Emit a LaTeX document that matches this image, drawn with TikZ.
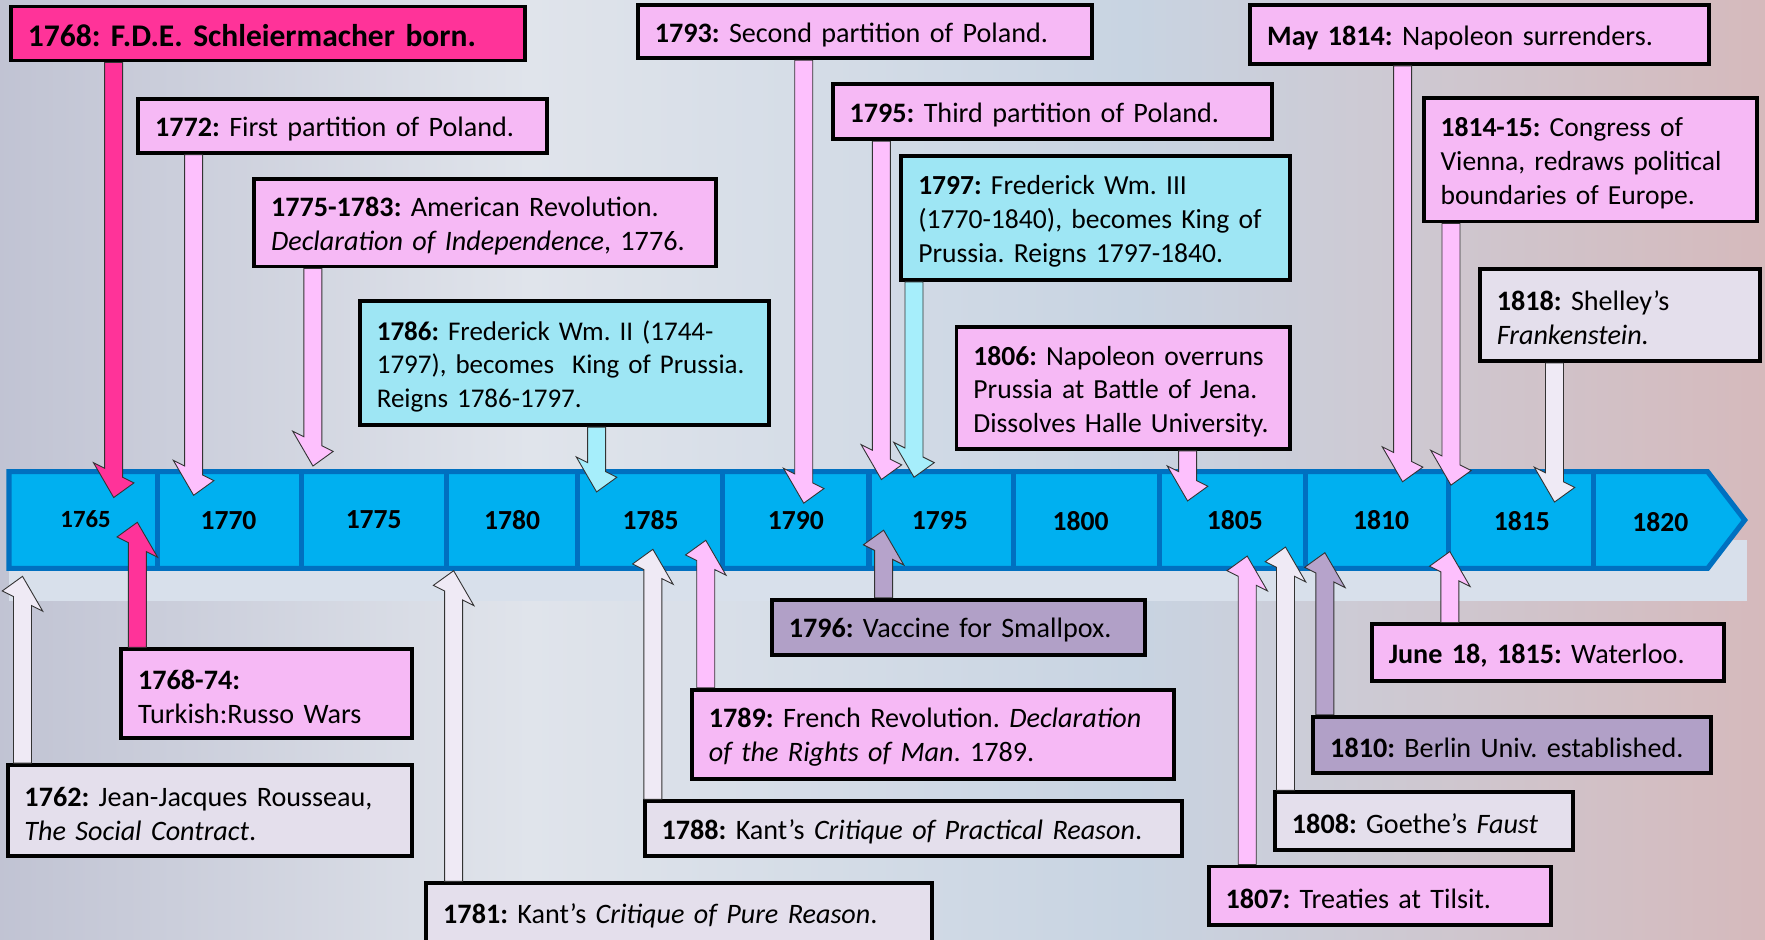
\documentclass[tikz,border=0pt]{standalone}
\usepackage{fontspec}
\setmainfont{Carlito}
\usetikzlibrary{arrows.meta,positioning,calc}
\frenchspacing
\hyphenpenalty=10000
\exhyphenpenalty=10000

\definecolor{hotpink}{RGB}{255,51,153}
\definecolor{evpink}{RGB}{246,185,245}
\definecolor{arpink}{RGB}{253,192,253}
\definecolor{evcyan}{RGB}{158,230,244}
\definecolor{arcyan}{RGB}{166,238,251}
\definecolor{evlav}{RGB}{228,223,236}
\definecolor{arlav}{RGB}{239,234,245}
\definecolor{evpurp}{RGB}{177,160,199}
\definecolor{arpurp}{RGB}{182,163,203}
\definecolor{barblue}{RGB}{0,176,240}
\definecolor{barline}{RGB}{0,112,192}
\definecolor{bandgray}{RGB}{216,224,235}
\definecolor{bgA}{RGB}{200,194,210}
\definecolor{bgB}{RGB}{178,180,200}
\definecolor{bgC}{RGB}{224,228,235}
\definecolor{bgD}{RGB}{200,212,226}
\definecolor{bgE}{RGB}{214,184,186}
\definecolor{bgF}{RGB}{234,216,216}

\pgfdeclarehorizontalshading{bgshade}{100bp}{color(0bp)=(bgA); color(18bp)=(bgB); color(40bp)=(bgC); color(57bp)=(bgD); color(76bp)=(bgE); color(100bp)=(bgF)}

% block arrow: fill, start, tip
\newcommand{\evarrow}[3]{%
  \draw[evarr, fill=#1] let \p1=(#2), \p2=(#3), \n1={sign(\y2-\y1)} in
    (\x1-8pt,\y1) -- (\x1-8pt,\y2-22pt*\n1+4pt) -- (\x1-18pt,\y2-22pt*\n1+9pt)
    -- (\x2,\y2) -- (\x1+18pt,\y2-22pt*\n1-9pt) -- (\x1+8pt,\y2-22pt*\n1-4pt)
    -- (\x1+8pt,\y1) -- cycle;}

\begin{document}
\begin{tikzpicture}[x=1pt, y=-1pt,
    evt/.style n args={3}{draw, line width=3.5pt, anchor=north west, fill=#1,
      text width=#2pt, minimum height=#3pt, inner xsep=15pt, inner ysep=0pt,
      align=left, font=\fontsize{25}{30}\selectfont,
      execute at begin node={\rule{0pt}{23pt}}},
    sm/.style={font=\fontsize{24.5}{30}\selectfont},
    yr/.style={font=\fontsize{24.5}{28}\selectfont\bfseries, inner sep=0pt},
    evarr/.style={draw=black!80, line width=0.8pt},
    barpart/.style={draw=barline, line width=4.5pt}]
\useasboundingbox (0,0) rectangle (1568,835);
\shade[shading=bgshade] (0,0) rectangle (1568,835);

% timeline
\fill[bandgray] (8,480) rectangle (1552,534);
\draw[barpart, fill=barblue, line join=miter] (8,419) -- (1517,419) -- (1550,462) -- (1517,505) -- (8,505) -- cycle;
\draw[barpart] (140,419) -- (140,505);
\draw[barpart] (268,419) -- (268,505);
\draw[barpart] (397,419) -- (397,505);
\draw[barpart] (513,419) -- (513,505);
\draw[barpart] (642,419) -- (642,505);
\draw[barpart] (772,419) -- (772,505);
\draw[barpart] (900,419) -- (900,505);
\draw[barpart] (1030,419) -- (1030,505);
\draw[barpart] (1160,419) -- (1160,505);
\draw[barpart] (1287,419) -- (1287,505);
\draw[barpart] (1416,419) -- (1416,505);

\node[yr, font=\fontsize{22}{26}\selectfont\bfseries] (y1765) at (76,461) {1765};
\node[yr] (y1770) at (203,462) {1770};
\node[yr] (y1775) at (332,462) {1775};
\node[yr] (y1780) at (455,462) {1780};
\node[yr] (y1785) at (578,462) {1785};
\node[yr] (y1790) at (707,462) {1790};
\node[yr] (y1795) at (835,462) {1795};
\node[yr] (y1800) at (960,463) {1800};
\node[yr] (y1805) at (1097,462) {1805};
\node[yr] (y1810) at (1227,462) {1810};
\node[yr] (y1815) at (1352,463) {1815};
\node[yr] (y1820) at (1475,464) {1820};

% events above
\node[evt={hotpink}{426.5}{48}, font=\fontsize{28}{30}\selectfont\bfseries] (b1768) at (8,4) {1768: F.D.E. Schleiermacher born.};
\node[evt={evpink}{333.5}{48}] (b1772) at (121,86) {\textbf{1772:} First partition of Poland.};
\node[evt={evpink}{380.5}{78}] (b1775) at (224,157) {\textbf{1775-1783:} American Revolution.\\\textit{Declaration of Independence}, 1776.};
\node[evt={evcyan}{333.5}{110}, font=\fontsize{24}{30}\selectfont] (b1786) at (318,266) {\textbf{1786:} Frederick Wm. II (1744-\\1797), becomes\ \ King of Prussia.\\Reigns 1786-1797.};
\node[evt={evpink}{373.5}{47}] (b1793) at (565,3) {\textbf{1793:} Second partition of Poland.};
\node[evt={evpink}{360.5}{49}] (b1795) at (738,73) {\textbf{1795:} Third partition of Poland.};
\node[evt={evcyan}{315.5}{110}, sm] (b1797) at (799,137) {\textbf{1797:} Frederick Wm. III\\(1770-1840), becomes King of\\Prussia. Reigns 1797-1840.};
\node[evt={evpink}{266.5}{108}, sm] (b1806) at (848,289) {\textbf{1806:} Napoleon overruns\\Prussia at Battle of Jena.\\Dissolves Halle University.};
\node[evt={evpink}{377.5}{52}] (bMay1814) at (1109,3) {\textbf{May 1814:} Napoleon surrenders.};
\node[evt={evpink}{266.5}{110}, sm] (b1814) at (1263,85) {\textbf{1814-15:} Congress of\\Vienna, redraws political\\boundaries of Europe.};
\node[evt={evlav}{218.5}{82}] (b1818) at (1313,237) {\textbf{1818:} Shelley’s\\\textit{Frankenstein.}};

% events below
\node[evt={evpink}{228.5}{79}] (b1768b) at (106,575) {\textbf{1768-74:}\\Turkish:Russo Wars};
\node[evt={evlav}{329.5}{81}] (b1762) at (5,678) {\textbf{1762:} Jean-Jacques Rousseau,\\\textit{The Social Contract}.};
\node[evt={evlav}{419.5}{52}] (b1781) at (377,783) {\textbf{1781:} Kant’s \textit{Critique of Pure Reason}.};
\node[evt={evlav}{447.5}{49}] (b1788) at (571,710) {\textbf{1788:} Kant’s \textit{Critique of Practical Reason}.};
\node[evt={evpink}{398.5}{79}] (b1789) at (613,611) {\textbf{1789:} French Revolution. \textit{Declaration}\\\textit{of the Rights of Man}. 1789.};
\node[evt={evpurp}{301.5}{49}] (b1796) at (684,531) {\textbf{1796:} Vaccine for Smallpox.};
\node[evt={evpink}{274.5}{52}] (b1807) at (1072,768) {\textbf{1807:} Treaties at Tilsit.};
\node[evt={evlav}{234.5}{51}] (b1808) at (1131,702) {\textbf{1808:} Goethe’s \textit{Faust}};
\node[evt={evpurp}{323.5}{50}] (b1810) at (1165,635) {\textbf{1810:} Berlin Univ. established.};
\node[evt={evpink}{282.5}{50}] (bWaterloo) at (1217,553) {\textbf{June 18, 1815:} Waterloo.};

% arrow tips on the bar
\coordinate (t1768) at (101,442);
\coordinate (t1772) at (172,440);
\coordinate (t1775) at (278,414);
\coordinate (t1786) at (530,437);
\coordinate (t1793) at (714,447);
\coordinate (t1795) at (783,426);
\coordinate (t1797) at (812,424);
\coordinate (t1806) at (1055,445);
\coordinate (tMay1814) at (1246,428);
\coordinate (t1814) at (1289,431);
\coordinate (t1818) at (1381,446);
\coordinate (t1768b) at (122,464);
\coordinate (t1762) at (20,512);
\coordinate (t1781) at (403,507);
\coordinate (t1788) at (580,488);
\coordinate (t1789) at (627,480);
\coordinate (t1796) at (785,471);
\coordinate (t1807) at (1108,494);
\coordinate (t1808) at (1142,486);
\coordinate (t1810) at (1177,491);
\coordinate (tWaterloo) at (1288,490);

\evarrow{hotpink}{b1768.south -| t1768}{t1768}
\evarrow{arpink}{b1772.south -| t1772}{t1772}
\evarrow{arpink}{b1775.south -| t1775}{t1775}
\evarrow{arcyan}{b1786.south -| t1786}{t1786}
\evarrow{arpink}{b1793.south -| t1793}{t1793}
\evarrow{arpink}{b1795.south -| t1795}{t1795}
\evarrow{arcyan}{b1797.south -| t1797}{t1797}
\evarrow{arpink}{b1806.south -| t1806}{t1806}
\evarrow{arpink}{bMay1814.south -| tMay1814}{tMay1814}
\evarrow{arpink}{b1814.south -| t1814}{t1814}
\evarrow{arlav}{b1818.south -| t1818}{t1818}
\evarrow{hotpink}{b1768b.north -| t1768b}{t1768b}
\evarrow{arlav}{b1762.north -| t1762}{t1762}
\evarrow{arlav}{b1781.north -| t1781}{t1781}
\evarrow{arlav}{b1788.north -| t1788}{t1788}
\evarrow{arpink}{b1789.north -| t1789}{t1789}
\evarrow{arpurp}{b1796.north -| t1796}{t1796}
\evarrow{arpink}{b1807.north -| t1807}{t1807}
\evarrow{arlav}{b1808.north -| t1808}{t1808}
\evarrow{arpurp}{b1810.north -| t1810}{t1810}
\evarrow{arpink}{bWaterloo.north -| tWaterloo}{tWaterloo}
\end{tikzpicture}
\end{document}
